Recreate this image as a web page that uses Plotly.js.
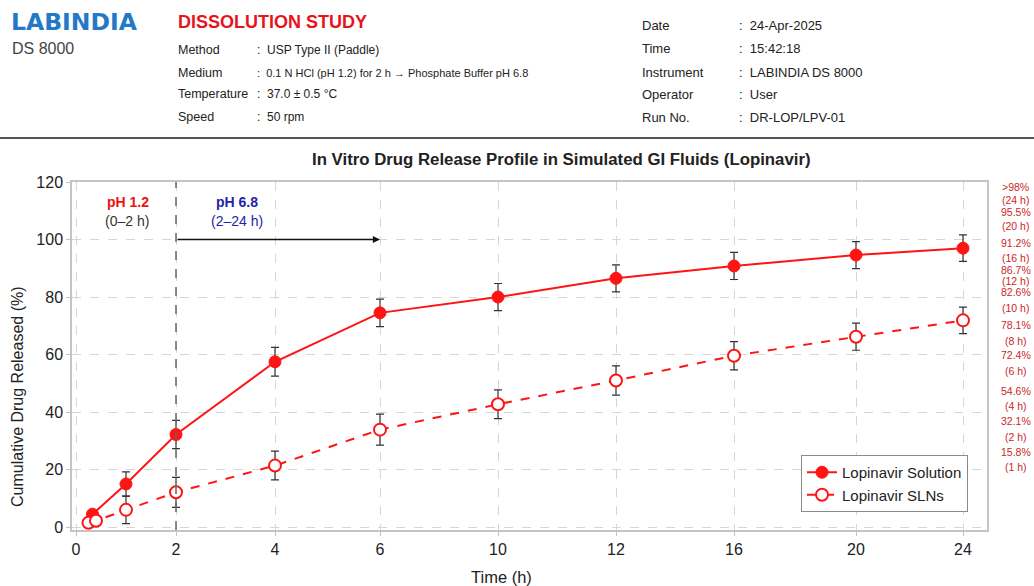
<!DOCTYPE html>
<html><head><meta charset="utf-8">
<script src="https://cdn.plot.ly/plotly-3.0.1.min.js"></script>
<style>html,body{margin:0;padding:0;background:#fff;} #chart{width:1034px;height:586px;}</style>
</head><body><div id="chart"></div>
<script>
// ---------- data ----------
const tickHours = [0, 2, 4, 6, 10, 12, 16, 20, 24];
const tickLabels = ['0', '2', '4', '6', '10', '12', '16', '20', '24'];
const solutionHours = [0.33, 1, 2, 4, 6, 10, 12, 16, 20, 24];
const solutionRelease = [4.5, 15.0, 32.2, 57.5, 74.5, 80.0, 86.5, 90.8, 94.6, 97.0];
const solutionSD = [1.2, 4.2, 4.9, 5.0, 4.8, 4.7, 4.7, 4.7, 4.7, 4.6];
const slnHours = [0.25, 0.4, 1, 2, 4, 6, 10, 12, 16, 20, 24];
const slnRelease = [1.5, 2.2, 6.0, 12.1, 21.4, 33.9, 42.7, 51.0, 59.6, 66.2, 71.9];
const slnSD = [0.6, 0.6, 4.8, 5.2, 5.0, 5.4, 5.0, 5.1, 4.9, 4.7, 4.6];
const sideValues = ['>98%', '95.5%', '91.2%', '86.7%', '82.6%', '78.1%', '72.4%', '54.6%', '32.1%', '15.8%'];
const sideHours = ['(24 h)', '(20 h)', '(16 h)', '(12 h)', '(10 h)', '(8 h)', '(6 h)', '(4 h)', '(2 h)', '(1 h)'];
const headerLeftLabels = ['Method', 'Medium', 'Temperature', 'Speed'];
const headerLeftValues = ['USP Type II (Paddle)', '0.1 N HCl (pH 1.2) for 2 h \u2192 Phosphate Buffer pH 6.8', '37.0 \u00b1 0.5 \u00b0C', '50 rpm'];
const headerRightLabels = ['Date', 'Time', 'Instrument', 'Operator', 'Run No.'];
const headerRightValues = ['24-Apr-2025', '15:42:18', 'LABINDIA DS 8000', 'User', 'DR-LOP/LPV-01'];

// ---------- layout / style ----------
// display spacing of the (non-uniform) time axis, one spot per tick
const tickSpots = [0, 2, 3.98, 6.08, 8.44, 10.8, 13.16, 15.6, 17.74];
function warp(h) {
  for (let i = 0; i < tickHours.length - 1; i++) {
    if (h <= tickHours[i + 1]) {
      const t = (h - tickHours[i]) / (tickHours[i + 1] - tickHours[i]);
      return tickSpots[i] + t * (tickSpots[i + 1] - tickSpots[i]);
    }
  }
  return tickSpots[tickSpots.length - 1];
}
const L = 72, R = 987, T = 182, B = 530;
const px = x => (x - L) / (R - L);
const py = y => (B - y) / (B - T);
const FONT = 'Liberation Sans, Arial, sans-serif';
const RED = '#ff1414';

const traces = [
  {
    x: solutionHours.map(warp), y: solutionRelease, name: 'Lopinavir Solution',
    type: 'scatter', mode: 'lines+markers',
    line: {color: RED, width: 2},
    marker: {color: RED, size: 12, line: {color: RED, width: 1}},
    error_y: {type: 'data', array: solutionSD, visible: true, color: '#333', thickness: 1.2, width: 4}
  },
  {
    x: slnHours.map(warp), y: slnRelease, name: 'Lopinavir SLNs',
    type: 'scatter', mode: 'lines+markers',
    line: {color: RED, width: 2, dash: 'dash'},
    marker: {color: '#ffffff', size: 12, line: {color: RED, width: 2}},
    error_y: {type: 'data', array: slnSD, visible: true, color: '#333', thickness: 1.2, width: 4}
  }
];

const ann = [];
function txt(x, y, text, opts) {
  ann.push(Object.assign({xref: 'paper', yref: 'paper', x: px(x), y: py(y), text: text, showarrow: false,
    xanchor: 'left', yanchor: 'middle', font: {family: FONT, size: 12, color: '#222'}}, opts || {}));
}
// header
txt(9, 22, '<b>LABINDIA</b>', {font: {family: 'DejaVu Sans, sans-serif', size: 23.5, color: '#2478c8'}});
txt(10, 48, 'DS 8000', {font: {family: FONT, size: 16, color: '#444'}});
txt(176, 22, '<b>DISSOLUTION STUDY</b>', {font: {family: FONT, size: 18, color: '#e8141b'}});
const leftY = [50, 73, 94, 117];
headerLeftLabels.forEach((s, i) => {
  txt(176, leftY[i], s, {font: {family: FONT, size: 12.5, color: '#222'}});
  txt(255, leftY[i], ':  ' + headerLeftValues[i], {font: {family: FONT, size: i === 1 ? 11 : 12, color: '#222'}});
});
const rightY = [25, 48, 72, 94, 117];
headerRightLabels.forEach((s, i) => {
  txt(640, rightY[i], s, {font: {family: FONT, size: 13, color: '#222'}});
  txt(737, rightY[i], ':  ' + headerRightValues[i], {font: {family: FONT, size: 13, color: '#222'}});
});
// chart title and axis titles
txt(561, 160, '<b>In Vitro Drug Release Profile in Simulated GI Fluids (Lopinavir)</b>',
  {xanchor: 'center', font: {family: FONT, size: 16.8, color: '#222'}});
txt(501, 577, 'Time (h)', {xanchor: 'center', font: {family: FONT, size: 16.5, color: '#222'}});
txt(17, 397, 'Cumulative Drug Released (%)', {xanchor: 'center', textangle: -90, font: {family: FONT, size: 16, color: '#222'}});
// pH phase labels
txt(128, 202, '<b>pH 1.2</b>', {xanchor: 'center', font: {family: FONT, size: 14, color: '#ee1111'}});
txt(127, 221, '(0\u20132 h)', {xanchor: 'center', font: {family: FONT, size: 14, color: '#333'}});
txt(237, 202, '<b>pH 6.8</b>', {xanchor: 'center', font: {family: FONT, size: 14, color: '#2424a8'}});
txt(237, 221, '(2\u201324 h)', {xanchor: 'center', font: {family: FONT, size: 14, color: '#2424a8'}});
// arrow from pH change (2 h) toward 6 h
ann.push({xref: 'x', yref: 'y', axref: 'x', ayref: 'y', x: warp(6), y: 100, ax: warp(2), ay: 100,
  showarrow: true, arrowhead: 2, arrowsize: 1.1, arrowwidth: 1.3, arrowcolor: '#111', text: ''});
// side labels
const sideValueY = [187, 212, 243, 270, 292, 325, 355, 391, 421, 452];
const sideHourY = [200, 226, 258, 281, 308, 341, 371, 406, 437, 467];
sideValues.forEach((s, i) => {
  txt(1016, sideValueY[i], s, {xanchor: 'center', font: {family: FONT, size: 10.5, color: '#cc1f1f'}});
  txt(1016, sideHourY[i], sideHours[i], {xanchor: 'center', font: {family: FONT, size: 10.5, color: '#cc1f1f'}});
});

const layout = {
  width: 1034, height: 586,
  paper_bgcolor: '#ffffff', plot_bgcolor: '#ffffff',
  margin: {l: L, r: 1034 - R, t: T, b: 586 - B, pad: 0},
  font: {family: FONT, size: 16, color: '#222'},
  showlegend: true,
  legend: {x: px(968), xanchor: 'right', y: py(512), yanchor: 'bottom',
    bgcolor: '#ffffff', bordercolor: '#8a8a8a', borderwidth: 1,
    font: {family: FONT, size: 15, color: '#222'}},
  xaxis: {
    range: [(L - 76) / 50, (R - 76) / 50],
    tickmode: 'array', tickvals: tickHours.map(warp), ticktext: tickLabels,
    showgrid: true, gridcolor: '#d6d6d6', griddash: 'dash', gridwidth: 1,
    zeroline: false, showline: true, mirror: true, linecolor: '#c4c4c4', linewidth: 1.5,
    ticks: 'outside', ticklen: 4, tickcolor: '#c4c4c4',
    tickfont: {family: FONT, size: 16, color: '#222'}
  },
  yaxis: {
    range: [-1, 120], tickvals: [0, 20, 40, 60, 80, 100, 120],
    showgrid: true, gridcolor: '#d6d6d6', griddash: 'dash', gridwidth: 1,
    zeroline: false, showline: true, mirror: true, linecolor: '#c4c4c4', linewidth: 1.5,
    ticks: 'outside', ticklen: 4, tickcolor: '#c4c4c4',
    tickfont: {family: FONT, size: 16, color: '#222'}
  },
  shapes: [
    {type: 'line', xref: 'paper', yref: 'paper', x0: px(0), x1: px(1034), y0: py(138), y1: py(138),
      line: {color: '#555', width: 2}},
    {type: 'line', xref: 'x', yref: 'paper', x0: warp(2), x1: warp(2), y0: 0, y1: 1,
      line: {color: '#666', width: 1.5, dash: 'dash'}}
  ],
  annotations: ann
};

Plotly.newPlot('chart', traces, layout, {displayModeBar: false, responsive: false});
</script>
</body></html>
